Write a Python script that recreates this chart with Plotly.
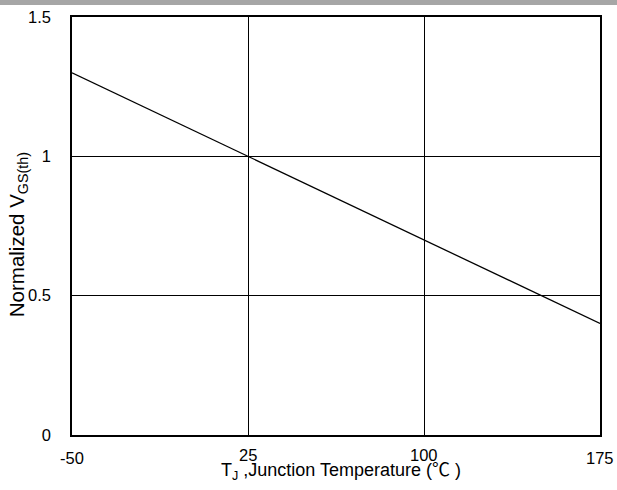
import plotly.graph_objects as go

temps = [-50, 25, 100, 175]
vgs_norm = [1.30, 1.00, 0.70, 0.40]
x_ticks = [-50, 25, 100, 175]
x_tick_labels = ["-50", "25", "100", "175"]
y_ticks = [0, 0.5, 1, 1.5]
y_tick_labels = ["0", "0.5", "1", "1.5"]

fig = go.Figure()
fig.add_trace(go.Scatter(x=temps, y=vgs_norm, mode="lines",
                         line=dict(color="black", width=1.3), showlegend=False))

font = dict(family="Liberation Sans, Arial, sans-serif", size=16.5, color="black")

# x tick labels: inner ones sit slightly higher in the reference
tick_annots = []
for i, (t, lab) in enumerate(zip(x_ticks, x_tick_labels)):
    inner = 0 < i < len(x_ticks) - 1
    tick_annots.append(dict(text=lab, x=t, xref="x", y=0, yref="paper",
                            xanchor="center", yanchor="top", showarrow=False,
                            yshift=-9 if inner else -12))

fig.update_layout(
    width=617, height=490,
    margin=dict(l=72, r=17, t=17, b=55, autoexpand=False),
    paper_bgcolor="white", plot_bgcolor="white",
    font=font,
    shapes=[dict(type="rect", xref="paper", yref="paper", x0=-0.2, x1=1.2,
                 y0=1.0 + 12/418, y1=1.0 + 18/418, fillcolor="#a6a6a6",
                 line=dict(width=0), layer="below")],
    annotations=tick_annots + [
        dict(text="T<sub>J</sub> ,Junction Temperature (<span style=\"font-family:'Noto Sans CJK SC'\">℃</span> )",
             xref="paper", yref="paper",
             x=0.51, y=-34/418, xanchor="center", yanchor="middle", showarrow=False,
             font=dict(size=18)),
        dict(text="Normalized V<sub>GS(th)</sub>", xref="paper", yref="paper",
             x=-54/528, y=0.478, xanchor="center", yanchor="middle", showarrow=False,
             textangle=-90, font=dict(size=20.5)),
    ],
)
fig.update_xaxes(range=[-50, 175], tickvals=x_ticks, showticklabels=False,
                 showgrid=True, gridcolor="black", gridwidth=1,
                 showline=True, linecolor="black", linewidth=1.5, mirror=True,
                 zeroline=False, ticks="", automargin=False)
fig.update_yaxes(range=[0, 1.5], tickvals=y_ticks, ticktext=y_tick_labels,
                 showgrid=True, gridcolor="black", gridwidth=1,
                 showline=True, linecolor="black", linewidth=1.5, mirror=True,
                 zeroline=False, ticks="", ticklabelstandoff=16, automargin=False)

fig.write_html("out.html", config={"displayModeBar": False},
               post_script="document.body.style.margin='0';document.body.style.padding='0';")
